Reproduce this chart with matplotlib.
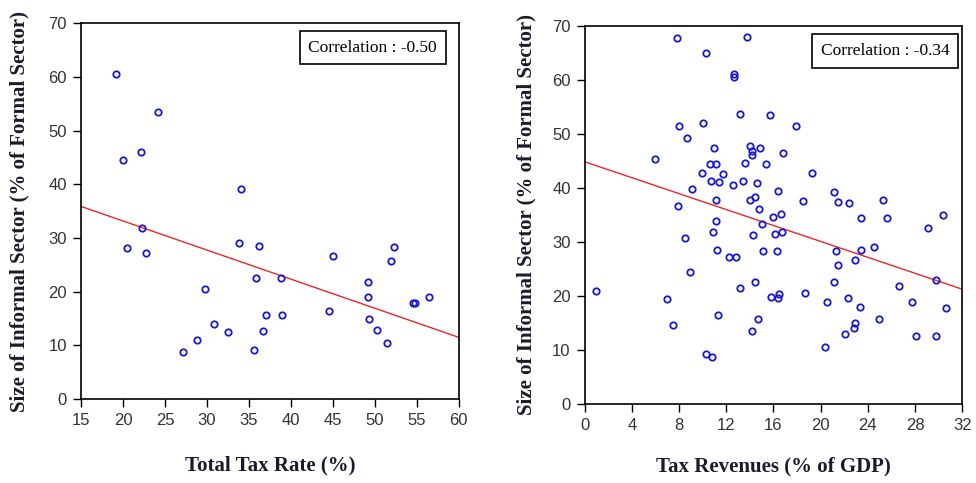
import numpy as np
import matplotlib
matplotlib.use('Agg')
import matplotlib.pyplot as plt

# left panel: total tax rate vs informal sector
tax_rate = [19.2, 24.2, 20.0, 22.1, 34.1, 22.3, 20.5, 22.7, 33.8, 36.2,
            45.0, 35.8, 38.8, 29.8, 49.2, 49.2, 52.3, 51.9, 54.5, 54.8,
            56.5, 44.6, 37.0, 39.0, 49.3, 50.3, 51.5, 30.8, 32.5, 36.7,
            28.8, 27.1, 35.6]
informal_a = [60.5, 53.5, 44.6, 46.0, 39.2, 31.8, 28.2, 27.1, 29.1, 28.5,
              26.6, 22.5, 22.5, 20.4, 21.7, 18.9, 28.3, 25.7, 17.8, 17.9,
              18.9, 16.4, 15.7, 15.7, 14.9, 12.9, 10.5, 14.0, 12.5, 12.6,
              11.0, 8.7, 9.2]
fit_a = (44.0, -0.542)  # intercept, slope
corr_a = "Correlation : -0.50"

# right panel: tax revenues vs informal sector
tax_rev = [7.8, 13.75, 10.3, 12.67, 12.67, 13.2, 15.7, 17.9, 8.0, 10.05,
           8.7, 6.0, 10.95, 14.0, 14.2, 14.2, 14.9, 16.8, 13.6, 10.6,
           11.15, 15.35, 9.96, 11.74, 19.3, 10.7, 11.4, 13.4, 12.6, 14.6,
           9.1, 16.4, 21.1, 11.15, 14.0, 14.4, 18.5, 21.5, 22.4, 25.3,
           7.9, 14.8, 11.15, 16.6, 16.0, 15.05, 23.4, 25.6, 30.4, 29.1,
           10.9, 8.5, 14.3, 16.1, 16.7, 11.2, 12.2, 12.8, 15.1, 16.3,
           21.3, 23.4, 24.5, 22.9, 21.5, 8.95, 14.4, 21.1, 13.2, 26.6,
           29.8, 1.0, 7.0, 15.75, 16.4, 16.5, 18.65, 20.55, 22.3, 27.7,
           23.3, 30.65, 11.3, 14.7, 24.9, 7.45, 22.9, 22.8, 14.2, 22.1,
           28.1, 29.8, 20.4, 10.3, 10.8]
informal_b = [67.7, 67.9, 64.9, 61.0, 60.4, 53.6, 53.4, 51.5, 51.4, 52.0,
              49.2, 45.3, 47.3, 47.8, 46.7, 46.0, 47.3, 46.5, 44.6, 44.3,
              44.4, 44.3, 42.8, 42.5, 42.8, 41.3, 41.0, 41.3, 40.5, 40.8,
              39.7, 39.3, 39.2, 37.8, 37.8, 38.3, 37.5, 37.3, 37.2, 37.7,
              36.7, 36.1, 33.9, 35.2, 34.5, 33.3, 34.4, 34.4, 35.0, 32.5,
              31.8, 30.6, 31.3, 31.5, 31.8, 28.4, 27.2, 27.1, 28.2, 28.3,
              28.3, 28.5, 29.1, 26.7, 25.7, 24.4, 22.5, 22.5, 21.5, 21.8,
              23.0, 20.9, 19.4, 19.7, 19.5, 20.4, 20.5, 18.9, 19.6, 18.9,
              18.0, 17.8, 16.5, 15.7, 15.7, 14.5, 15.0, 14.0, 13.5, 13.0,
              12.5, 12.6, 10.5, 9.2, 8.7]
fit_b = (44.8, -0.7375)
corr_b = "Correlation : -0.34"

ylabel = "Size of Informal Sector (% of Formal Sector)"

tick_font = ['Liberation Sans', 'DejaVu Sans']
label_font = ['Liberation Serif', 'DejaVu Serif']

fig = plt.figure(figsize=(9.76, 4.83), dpi=100)
ax1 = fig.add_axes([0.083, 0.174, 0.387, 0.778])
ax2 = fig.add_axes([0.599, 0.164, 0.387, 0.783])

panels = [
    (ax1, tax_rate, informal_a, fit_a, corr_a, (15, 60), np.arange(15, 61, 5),
     "Total Tax Rate (%)", (0.772, 0.935), (-0.162, -0.176)),
    (ax2, tax_rev, informal_b, fit_b, corr_b, (0, 32), np.arange(0, 33, 4),
     "Tax Revenues (% of GDP)", (0.795, 0.9325), (-0.154, -0.167)),
]

for ax, x, y, fit, corr, xlim, xticks, xlabel, boxpos, labpos in panels:
    ax.plot(x, y, 'o', mfc='none', mec='#1a1acc', ms=4.6, mew=1.3, zorder=3)
    xs = np.array(xlim)
    ax.plot(xs, fit[0] + fit[1] * xs, color='#e8262a', lw=1.0, zorder=2)
    ax.set_xlim(xlim)
    ax.set_ylim(0, 70)
    ax.set_xticks(xticks)
    ax.set_yticks(np.arange(0, 71, 10))
    ax.tick_params(direction='out', length=6, width=1, labelsize=12,
                   colors='black', labelcolor='#333333', pad=4)
    for lab in ax.get_xticklabels() + ax.get_yticklabels():
        lab.set_family(tick_font)
    for s in ax.spines.values():
        s.set_linewidth(1.2)
    ax.set_xlabel(xlabel, family=label_font, fontweight='bold', fontsize=15,
                  va='center', color='#1a1a2a')
    ax.set_ylabel(ylabel, family=label_font, fontweight='bold', fontsize=15,
                  va='center', color='#1a1a2a')
    ax.yaxis.set_label_coords(labpos[0], 0.5)
    ax.xaxis.set_label_coords(0.5, labpos[1])
    ax.text(boxpos[0], boxpos[1], corr, transform=ax.transAxes, ha='center',
            va='center', family=label_font, fontsize=12.5,
            bbox=dict(boxstyle='square,pad=0.5', fc='white', ec='black', lw=1.2))

fig.savefig('out.png', dpi=100)
